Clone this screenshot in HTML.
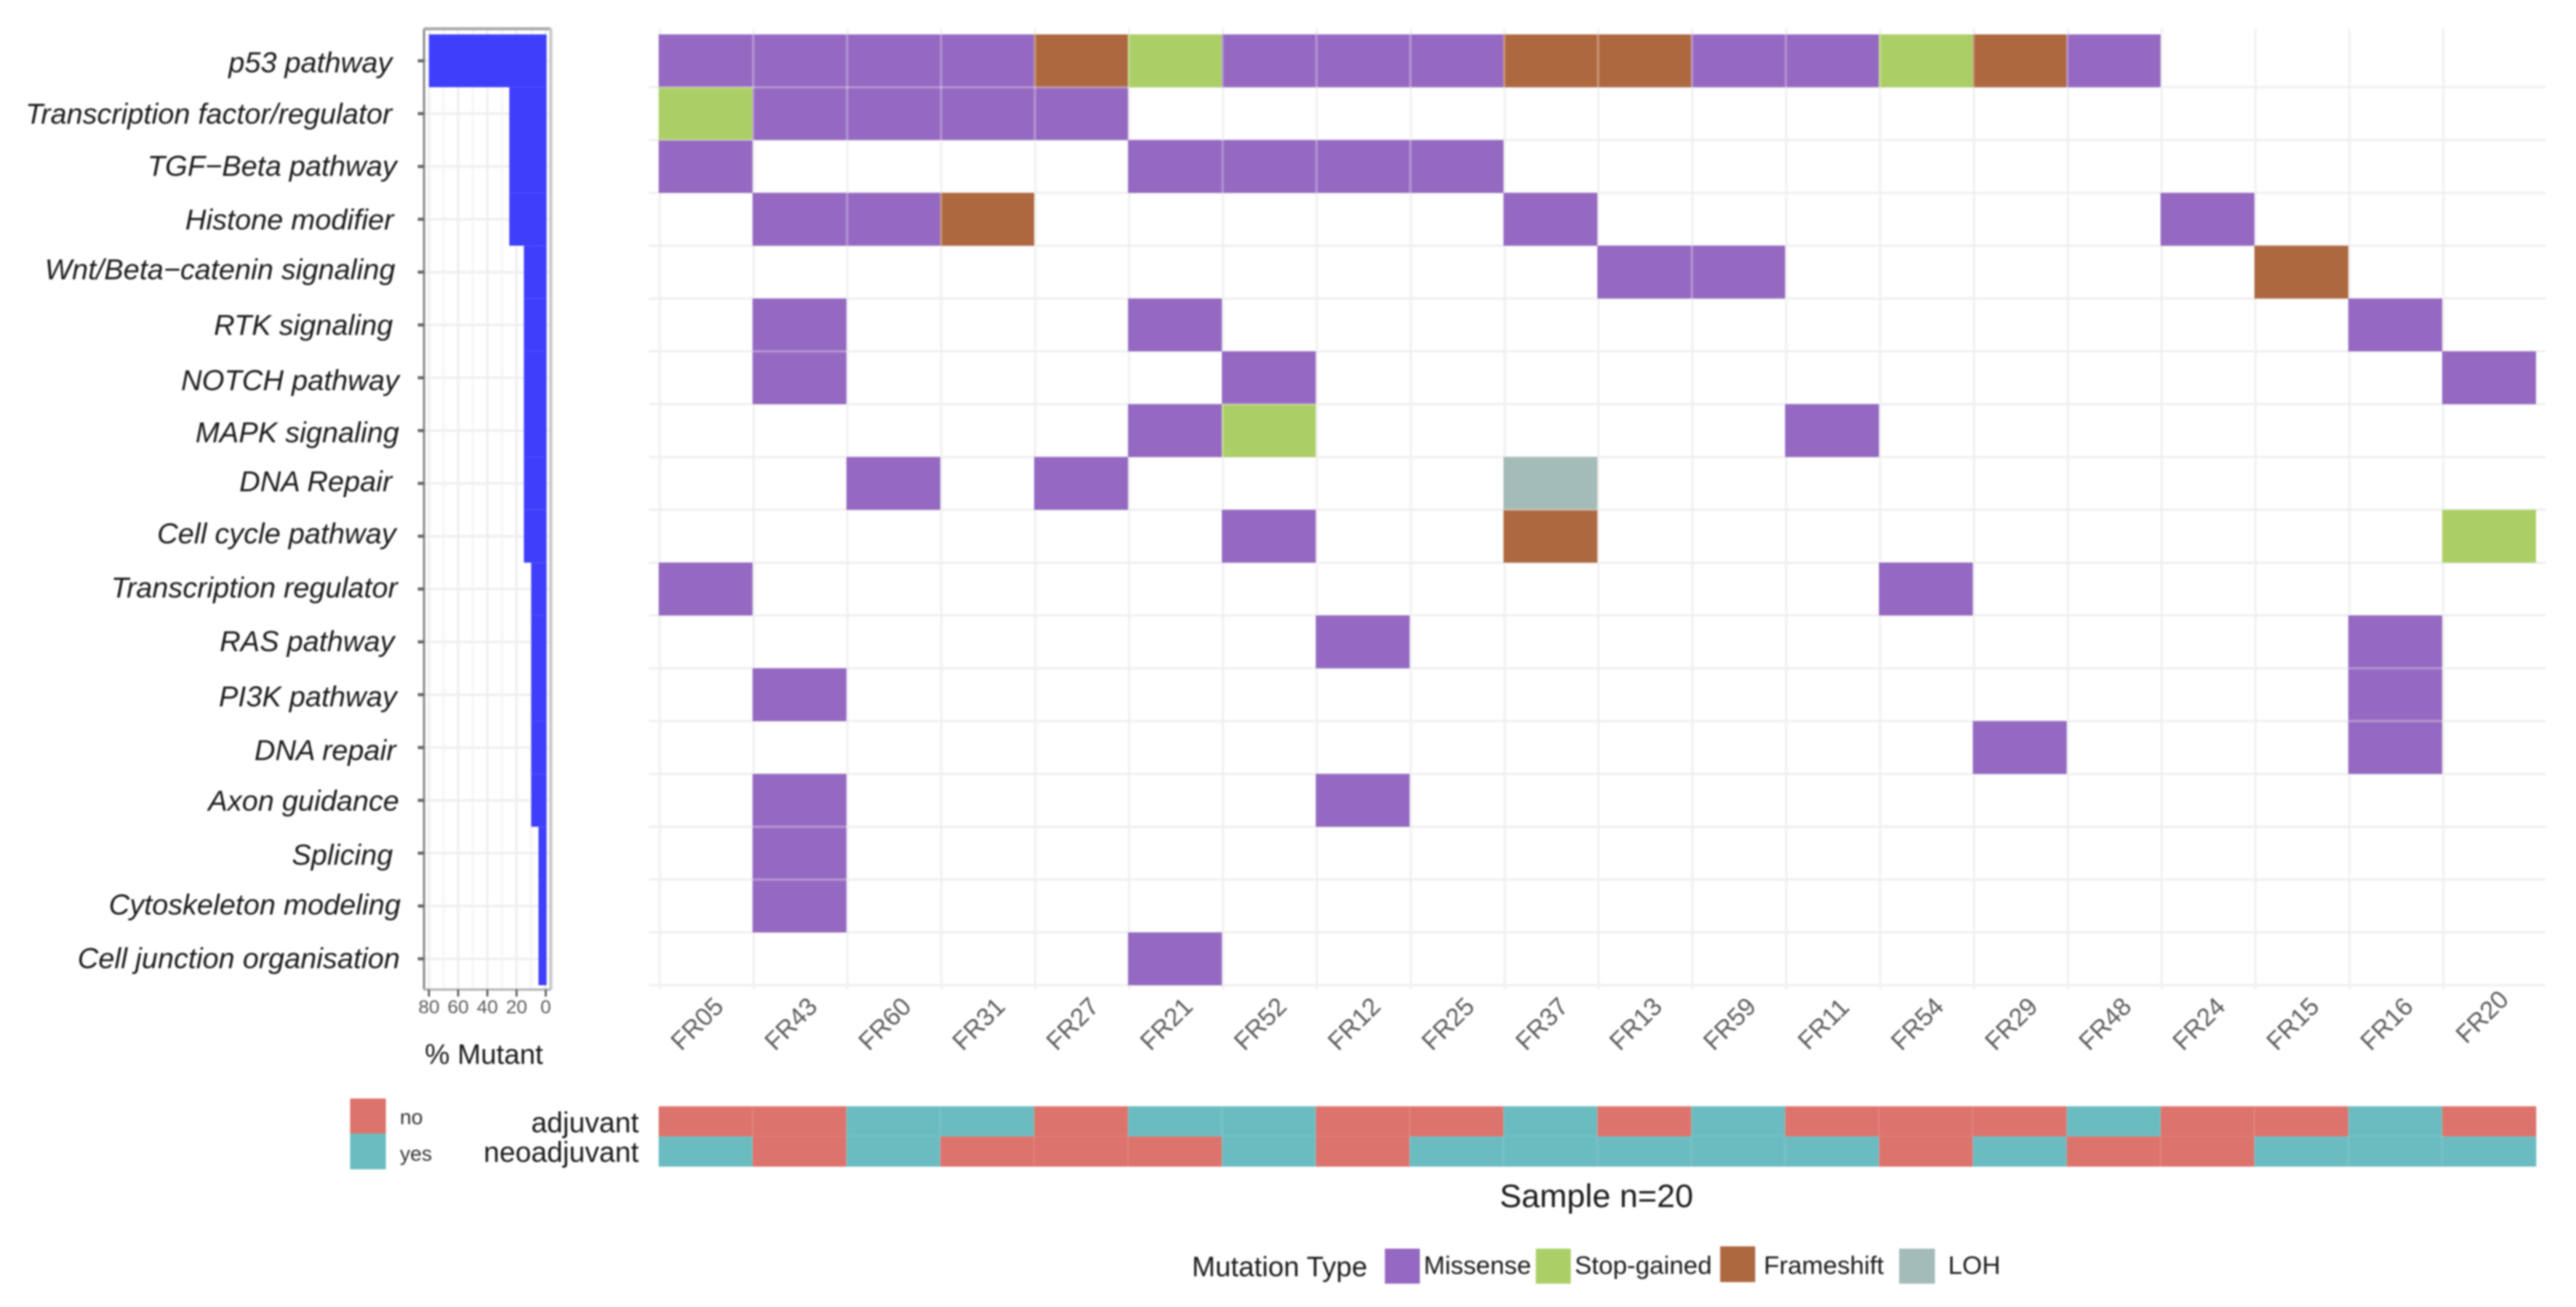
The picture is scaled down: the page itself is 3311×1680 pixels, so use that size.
<!DOCTYPE html>
<html lang="en">
<head>
<meta charset="utf-8">
<title>Oncoplot of pathway mutations</title>
<style>
html,body{margin:0;padding:0;background:#fff;width:3311px;height:1680px;overflow:hidden}
svg{display:block;filter:blur(1.1px)}
text{font-family:"Liberation Sans",sans-serif}
</style>
</head>
<body>
<svg id="chart" xmlns="http://www.w3.org/2000/svg" width="3311" height="1680" viewBox="0 0 3311 1680">
  <rect x="0" y="0" width="3311" height="1680" fill="#ffffff"/>
  <g id="bar-panel"></g>
  <g id="heat-panel"></g>
  <g id="clin-panel"></g>

  <text x="622" y="1355" font-size="36" fill="#1a1a1a" text-anchor="middle" dominant-baseline="central">% Mutant</text>
  <text x="2052" y="1537" font-size="42" fill="#1a1a1a" text-anchor="middle" dominant-baseline="central">Sample n=20</text>

  <g>
    <rect x="450" y="1412" width="46" height="45" fill="#dd736d"/>
    <rect x="450" y="1457" width="46" height="46" fill="#6bbcc1"/>
    <text x="514" y="1436" font-size="26.5" fill="#333" dominant-baseline="central">no</text>
    <text x="514" y="1483" font-size="26.5" fill="#333" dominant-baseline="central">yes</text>
  </g>

  <g>
    <text x="1532" y="1628" font-size="36" fill="#1a1a1a" dominant-baseline="central">Mutation Type</text>
    <rect x="1780" y="1605" width="45" height="45" fill="#9569c2"/>
    <text x="1830" y="1626" font-size="32.7" fill="#1a1a1a" dominant-baseline="central">Missense</text>
    <rect x="1974" y="1605" width="45" height="45" fill="#abcf66"/>
    <text x="2024" y="1626" font-size="32.7" fill="#1a1a1a" dominant-baseline="central">Stop-gained</text>
    <rect x="2211" y="1602" width="45" height="46" fill="#ae683f"/>
    <text x="2267" y="1626" font-size="32.7" fill="#1a1a1a" dominant-baseline="central">Frameshift</text>
    <rect x="2441" y="1605" width="46" height="45" fill="#a3bcb8"/>
    <text x="2504" y="1626" font-size="32.7" fill="#1a1a1a" dominant-baseline="central">LOH</text>
  </g>
</svg>

<script>
// ---------- chart data ----------
const samples = ["FR05","FR43","FR60","FR31","FR27","FR21","FR52","FR12","FR25","FR37","FR13","FR59","FR11","FR54","FR29","FR48","FR24","FR15","FR16","FR20"];
const pathways = ["p53 pathway","Transcription factor/regulator","TGF\u2212Beta pathway","Histone modifier","Wnt/Beta\u2212catenin signaling","RTK signaling","NOTCH pathway","MAPK signaling","DNA Repair","Cell cycle pathway","Transcription regulator","RAS pathway","PI3K pathway","DNA repair","Axon guidance","Splicing","Cytoskeleton modeling","Cell junction organisation"];
const pctMutant = [80,25,25,25,15,15,15,15,15,15,10,10,10,10,10,5,5,5];
const barTicks = [80,60,40,20,0];
const barMinorTicks = [70,50,30,10];
// one string per pathway, one character per sample: M missense, S stop-gained, F frameshift, L LOH, . none
const mutationRows = [
  "MMMMFSMMMFFMMSFM....",
  "SMMMM...............",
  "M....MMMM...........",
  ".MMF.....M......M...",
  "..........MM.....F..",
  ".M...M............M.",
  ".M....M............M",
  ".....MS.....M.......",
  "..M.M....L..........",
  "......M..F.........S",
  "M............M......",
  ".......M..........M.",
  ".M................M.",
  "..............M...M.",
  ".M.....M............",
  ".M..................",
  ".M..................",
  ".....M.............."
];
const clinicalTracks = ["adjuvant","neoadjuvant"];
// n = no, y = yes
const adjuvantValues    = "nnyynyynnynynnnynnyn";
const neoadjuvantValues = "ynynnnynyyyyynynnyyy";

// ---------- presentation ----------
const typeColor = {M:"#9569c2",S:"#abcf66",F:"#ae683f",L:"#a3bcb8"};
const typeName = {M:"missense",S:"stop-gained",F:"frameshift",L:"loh"};
const clinColor = {n:"#dd736d",y:"#6bbcc1"};
const NS = "http://www.w3.org/2000/svg";

const heatLeft = 846.6, colW = 120.65, rowTop = 44.2, rowH = 67.9;
const barZero = 701.5, barPerUnit = 1.877;
const panelLeft = 545, panelRight = 708, panelTop = 37, panelBottom = 1272;
const labelEnd = [504,504,510,506,508,505,513,513,504,509,511,507,510,509,513,505,515,514];
const labelShift = [2,0,-1,0,-4,0,3,2,-3,-4,-2,-1,2,3,0,2,-2,-1];

const xCol = i => heatLeft + i * colW;
const yRow = i => rowTop + i * rowH;
const xBar = v => barZero - v * barPerUnit;

function mk(parent, tag, attrs, txt) {
  const el = document.createElementNS(NS, tag);
  for (const k in attrs) el.setAttribute(k, attrs[k]);
  if (txt !== undefined) el.textContent = txt;
  parent.appendChild(el);
  return el;
}

const barPanel = document.getElementById("bar-panel");
const heatPanel = document.getElementById("heat-panel");
const clinPanel = document.getElementById("clin-panel");

// ---------- bar panel ----------
barMinorTicks.forEach(v => {
  const l = mk(barPanel, "line", {x1:xBar(v),x2:xBar(v),y1:panelTop,y2:panelBottom,stroke:"#f6f6f6","stroke-width":3});
  
  
});
barTicks.forEach(v => {
  const l = mk(barPanel, "line", {x1:xBar(v),x2:xBar(v),y1:panelTop,y2:panelBottom,stroke:"#efefef","stroke-width":3});
  
  
});
pathways.forEach((p, i) => {
  const cy = yRow(i) + rowH / 2;
  const g = mk(barPanel, "line", {x1:panelLeft,x2:panelRight,y1:cy,y2:cy,stroke:"#efefef","stroke-width":3});
  
  
});
pctMutant.forEach((v, i) => {
  const r = mk(barPanel, "rect", {x:xBar(v),y:yRow(i),width:barZero + 1 - xBar(v),height:rowH,fill:"#3f3ffb"});
  
  
});
const frame = mk(barPanel, "path", {d:`M${panelLeft} ${panelBottom}V${panelTop}`,stroke:"#8c8c8c","stroke-width":3,fill:"none"});


const frameTop = mk(barPanel, "path", {d:`M${panelLeft} ${panelTop}H${panelRight}`,stroke:"#ababab","stroke-width":4,fill:"none"});


const frameRight = mk(barPanel, "path", {d:`M${panelRight} ${panelTop}V${panelBottom}`,stroke:"#c9c9c9","stroke-width":4,fill:"none"});


const frameBottom = mk(barPanel, "path", {d:`M${panelLeft} ${panelBottom}H${panelRight}`,stroke:"#b5b5b5","stroke-width":3,fill:"none"});



barTicks.forEach(v => {
  const t = mk(barPanel, "line", {x1:xBar(v),x2:xBar(v),y1:panelBottom,y2:panelBottom + 9,stroke:"#555","stroke-width":2.5});
  
  
  const lab = mk(barPanel, "text", {x:xBar(v),y:1295,"font-size":24.5,fill:"#5a5a5a","text-anchor":"middle","dominant-baseline":"central"}, String(v));
  
  
});
pathways.forEach((p, i) => {
  const cy = yRow(i) + rowH / 2;
  const t = mk(barPanel, "line", {x1:537,x2:panelLeft,y1:cy,y2:cy,stroke:"#666","stroke-width":4});
  
  
  const lab = mk(barPanel, "text", {x:labelEnd[i],y:cy + labelShift[i],"font-size":37.1,"font-style":"italic",fill:"#1a1a1a","text-anchor":"end","dominant-baseline":"central"}, p);
  
  
});

// ---------- heatmap ----------
samples.forEach((s, i) => {
  const l = mk(heatPanel, "line", {x1:xCol(i) + 1.5,x2:xCol(i) + 1.5,y1:37,y2:1272,stroke:"#f1f1f1","stroke-width":3});
  
  
});
pathways.forEach((p, i) => {
  const l = mk(heatPanel, "line", {x1:834,x2:3272,y1:yRow(i + 1),y2:yRow(i + 1),stroke:"#f0f0f0","stroke-width":3});
  
  
});
mutationRows.forEach((row, r) => {
  row.split("").forEach((c, k) => {
    if (c === ".") return;
    const cell = mk(heatPanel, "rect", {x:xCol(k),y:yRow(r),width:colW,height:rowH,fill:typeColor[c]});
    
    
  });
});
// light seams between adjoining tiles
mutationRows.forEach((row, r) => {
  row.split("").forEach((c, k) => {
    if (c === ".") return;
    if (k > 0 && row[k - 1] !== ".") {
      const s = mk(heatPanel, "line", {x1:xCol(k) + 1,x2:xCol(k) + 1,y1:yRow(r),y2:yRow(r + 1),stroke:"#fff","stroke-opacity":.28,"stroke-width":3});
      
      
    }
    if (r > 0 && mutationRows[r - 1][k] !== ".") {
      const s = mk(heatPanel, "line", {x1:xCol(k),x2:xCol(k + 1),y1:yRow(r),y2:yRow(r),stroke:"#fff","stroke-opacity":.28,"stroke-width":3});
      
      
    }
  });
});
samples.forEach((s, i) => {
  const raised = s === "FR20";
  const cx = xCol(i) + colW / 2 - 11 + (raised ? 2 : 0);
  const cy = raised ? 1307 : 1316;
  const t = mk(heatPanel, "text", {x:cx,y:cy,"font-size":32.5,fill:"#5c5c5c","text-anchor":"middle","dominant-baseline":"central",transform:`rotate(-45 ${cx} ${cy})`}, s);
  
  
});

// ---------- clinical track ----------
const clinTop = 1422, clinH = 38.8;
const clinValues = [adjuvantValues, neoadjuvantValues];
clinicalTracks.forEach((name, r) => {
  const y = clinTop + r * clinH;
  clinValues[r].split("").forEach((v, k) => {
    const c = mk(clinPanel, "rect", {x:xCol(k),y:y,width:colW + .3,height:clinH,fill:clinColor[v]});
    
    
    if (k > 0) {
      const s = mk(clinPanel, "line", {x1:xCol(k),x2:xCol(k),y1:y,y2:y + clinH,stroke:"#fff","stroke-opacity":.12,"stroke-width":2});
      
      
    }
  });
  const lab = mk(clinPanel, "text", {x:821,y:y + 21 - r * 1,"font-size":36.6,fill:"#1a1a1a","text-anchor":"end","dominant-baseline":"central"}, name);
  
  
});
</script>
</body>
</html>
